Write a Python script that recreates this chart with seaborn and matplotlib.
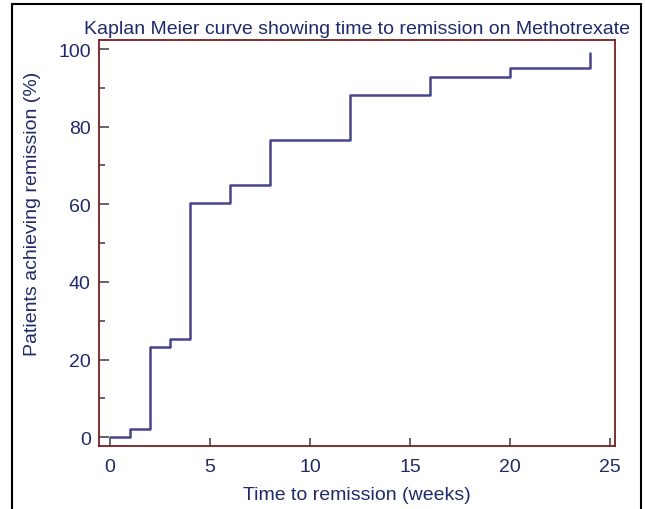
import matplotlib
matplotlib.use("Agg")
import matplotlib.pyplot as plt
from matplotlib.lines import Line2D
from matplotlib.ticker import MultipleLocator
import seaborn as sns
import pandas as pd

weeks = [0, 1, 2, 3, 4, 6, 8, 12, 16, 20, 24]
pct_remission = [0, 2.2, 23.1, 25.4, 60.4, 65.0, 76.6, 88.2, 92.7, 95.0, 98.9]
x_ticks = [0, 5, 10, 15, 20, 25]
y_ticks = [0, 20, 40, 60, 80, 100]

title = "Kaplan Meier curve showing time to remission on Methotrexate"
xlabel = "Time to remission (weeks)"
ylabel = "Patients achieving remission (%)"

text_col = "#1f2a6b"
line_col = "#45458a"
spine_col = "#7a1e1e"
tick_col = "#3a3a3a"

sns.set_style("ticks")
plt.rcParams["font.family"] = ["Liberation Sans", "DejaVu Sans"]

df = pd.DataFrame({"weeks": weeks, "pct": pct_remission})

fig = plt.figure(figsize=(6.45, 5.1), dpi=100)
ax = fig.add_axes([99 / 645, 1 - 446.7 / 510, (615 - 99) / 645, (446.7 - 40.7) / 510])

sns.lineplot(data=df, x="weeks", y="pct", ax=ax, drawstyle="steps-post",
             color=line_col, linewidth=1.8)

ax.set_xlim(-0.55, 25.25)
ax.set_ylim(-2.2, 102.4)
ax.set_xticks(x_ticks)
ax.set_yticks(y_ticks)
ax.yaxis.set_minor_locator(MultipleLocator(10))

ax.tick_params(axis="y", which="major", direction="in", length=7.5, width=1.1,
               color=tick_col, labelsize=14, labelcolor=text_col, pad=6, left=True)
ax.tick_params(axis="y", which="minor", direction="in", length=4, width=1.1,
               color=tick_col, left=True)
ax.tick_params(axis="x", which="major", direction="in", length=5.5, width=1.1,
               color=tick_col, labelsize=14, labelcolor=text_col, pad=9, bottom=True)
for s in ax.spines.values():
    s.set_visible(True)
    s.set_color(spine_col)
    s.set_linewidth(1.3)

ax.set_title(title, color=text_col, fontsize=14, pad=5)
ax.set_xlabel(xlabel, color=text_col, fontsize=14, labelpad=8)
ax.set_ylabel(ylabel, color=text_col, fontsize=14)
ax.yaxis.set_label_coords(-0.112, 0.573)

# outer black frame
fig.add_artist(Line2D([12 / 645, 12 / 645], [0, 1 - 5 / 510], transform=fig.transFigure,
                      color="black", linewidth=1.5))
fig.add_artist(Line2D([12 / 645, 640.5 / 645], [1 - 5 / 510, 1 - 5 / 510],
                      transform=fig.transFigure, color="black", linewidth=1.5))
fig.add_artist(Line2D([640.5 / 645, 640.5 / 645], [0, 1 - 5 / 510], transform=fig.transFigure,
                      color="black", linewidth=1.5))

fig.savefig("out.png", dpi=100)
